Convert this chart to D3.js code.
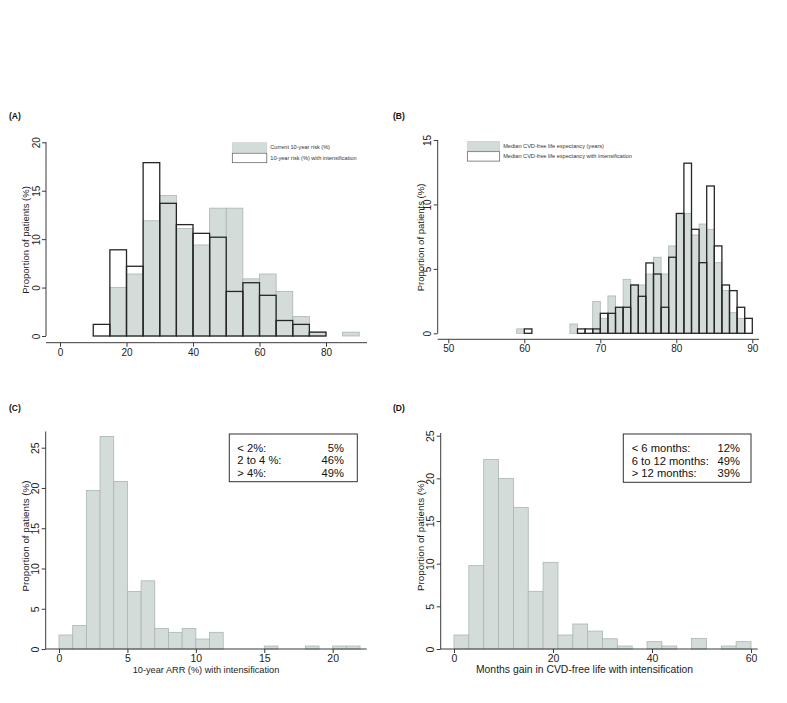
<!DOCTYPE html>
<html>
<head>
<meta charset="utf-8">
<script src="https://cdnjs.cloudflare.com/ajax/libs/d3/7.8.5/d3.min.js"></script>
<style>
  html, body { margin: 0; padding: 0; background: #fff; }
  svg { display: block; font-family: "Liberation Sans", Arial, sans-serif; }
</style>
</head>
<body>
<svg id="chart" width="787" height="703"></svg>
<script>
// ---------- DATA ----------
// Panel A: 10-year risk (%), bins of width 5 starting at these edges
const aBinStarts = [10, 15, 20, 25, 30, 35, 40, 45, 50, 55, 60, 65, 70, 75, 80, 85];
const aCurrent   = [0, 5.0, 6.4, 11.9, 14.5, 11.1, 9.4, 13.2, 13.2, 5.9, 6.4, 4.6, 2.0, 0.4, 0, 0.4];
const aIntens    = [1.2, 8.9, 7.2, 17.9, 13.7, 11.5, 10.6, 10.2, 4.6, 5.5, 4.2, 1.6, 1.2, 0.4, 0, 0];
const aXTicks = [0, 20, 40, 60, 80];
const aYTicks = [0, 5, 10, 15, 20];
const aYTickLabels = ["0", "0", "10", "15", "20"];
const aLegend = ["Current 10-year risk (%)", "10-year risk (%) with intensification"];

// Panel B: median CVD-free life expectancy (years), bins of width 1
const bBinStarts = [59, 60, 61, 62, 63, 64, 65, 66, 67, 68, 69, 70, 71, 72, 73, 74, 75, 76, 77, 78, 79, 80, 81, 82, 83, 84, 85, 86, 87, 88, 89];
const bCurrent   = [0.34, 0, 0, 0, 0, 0, 0, 0.72, 0, 0, 2.46, 1.16, 2.9, 2.0, 4.19, 3.75, 3.75, 4.6, 5.9, 4.6, 6.78, 9.3, 9.3, 7.63, 8.48, 8.07, 5.48, 3.31, 1.6, 1.16, 0];
const bIntens    = [0, 0.34, 0, 0, 0, 0, 0, 0, 0.34, 0.34, 0.34, 1.55, 1.55, 2.02, 2.02, 3.75, 2.87, 5.46, 4.6, 2.02, 5.9, 9.3, 13.2, 8.07, 5.48, 11.43, 6.78, 3.75, 3.31, 2.02, 1.16];
const bXTicks = [50, 60, 70, 80, 90];
const bYTicks = [0, 5, 10, 15];
const bLegend = ["Median CVD-free life expectancy (years)", "Median CVD-free life expectancy with intensification"];

// Panel C: 10-year ARR (%), bins of width 1
const cBinStarts = [0, 1, 2, 3, 4, 5, 6, 7, 8, 9, 10, 11, 12, 13, 14, 15, 16, 17, 18, 19, 20, 21];
const cValues    = [1.74, 2.93, 19.7, 26.4, 20.8, 7.15, 8.47, 2.56, 2.07, 2.56, 1.24, 2.07, 0, 0, 0, 0.37, 0, 0, 0.37, 0, 0.37, 0.37];
const cXTicks = [0, 5, 10, 15, 20];
const cYTicks = [0, 5, 10, 15, 20, 25];
const cBoxLabels = ["< 2%:", "2 to 4 %:", "> 4%:"];
const cBoxValues = ["5%", "46%", "49%"];

// Panel D: months gain, bins of width 3
const dBinStarts = [0, 3, 6, 9, 12, 15, 18, 21, 24, 27, 30, 33, 36, 39, 42, 45, 48, 51, 54, 57];
const dValues    = [1.64, 9.77, 22.2, 20.0, 16.6, 6.76, 10.16, 1.64, 2.93, 2.1, 1.2, 0.35, 0, 0.86, 0.35, 0, 1.25, 0, 0.35, 0.86];
const dXTicks = [0, 20, 40, 60];
const dYTicks = [0, 5, 10, 15, 20, 25];
const dBoxLabels = ["< 6 months:", "6 to 12 months:", "> 12 months:"];
const dBoxValues = ["12%", "49%", "39%"];

const yTitle = "Proportion of patients (%)";

// ---------- STYLE ----------
const GRAY_FILL = "#d3dcd8";
const GRAY_STROKE = "#aab6b2";
const OUT_STROKE = "#262626";
const AXIS = "#3a3a3a";
const TEXT = "#222";

const svg = d3.select("#chart");

function drawPanel(cfg) {
  const g = svg.append("g");
  const x = d3.scaleLinear().domain(cfg.xDomain).range(cfg.xRange);
  const y = d3.scaleLinear().domain(cfg.yDomain).range(cfg.yRange);

  const grayData = cfg.binStarts.map((s, i) => ({ s, v: cfg.gray[i] })).filter(d => d.v > 0);
  g.selectAll(".gbar").data(grayData).join("rect")
    .attr("x", d => x(d.s))
    .attr("width", d => x(d.s + cfg.binW) - x(d.s))
    .attr("y", d => y(d.v))
    .attr("height", d => y(0) - y(d.v))
    .attr("fill", GRAY_FILL)
    .attr("stroke", GRAY_STROKE)
    .attr("stroke-width", 0.8);

  if (cfg.outline) {
    const oData = cfg.binStarts.map((s, i) => ({ s, v: cfg.outline[i] })).filter(d => d.v > 0);
    g.selectAll(".obar").data(oData).join("rect")
      .attr("x", d => x(d.s))
      .attr("width", d => x(d.s + cfg.binW) - x(d.s))
      .attr("y", d => y(d.v))
      .attr("height", d => y(0) - y(d.v))
      .attr("fill", "none")
      .attr("stroke", OUT_STROKE)
      .attr("stroke-width", 1.3);
  }

  const yAxis = d3.axisLeft(y).tickValues(cfg.yTicks).tickSize(4)
    .tickFormat((d, i) => cfg.yTickLabels ? cfg.yTickLabels[i] : d3.format("d")(d));
  const ya = g.append("g").attr("transform", `translate(${cfg.yAxisX},0)`).call(yAxis);
  ya.select(".domain").remove();
  ya.append("line").attr("x1", 0).attr("x2", 0)
    .attr("y1", cfg.yAxisSpan[0]).attr("y2", cfg.yAxisSpan[1])
    .attr("stroke", AXIS).attr("stroke-width", 1);
  ya.selectAll(".tick line").attr("stroke", AXIS);
  ya.selectAll(".tick text")
    .attr("font-size", cfg.tickFont).attr("fill", TEXT)
    .attr("text-anchor", "middle")
    .attr("x", null).attr("dy", null)
    .attr("transform", `translate(${-cfg.yLabelOff},0) rotate(-90)`)
    .attr("y", 0);

  const xAxis = d3.axisBottom(x).tickValues(cfg.xTicks).tickSize(4).tickFormat(d3.format("d"));
  const xa = g.append("g").attr("transform", `translate(0,${cfg.xAxisY})`).call(xAxis);
  xa.select(".domain").remove();
  xa.append("line").attr("x1", cfg.xAxisSpan[0]).attr("x2", cfg.xAxisSpan[1])
    .attr("y1", 0).attr("y2", 0).attr("stroke", AXIS).attr("stroke-width", 1);
  xa.selectAll(".tick line").attr("stroke", AXIS);
  xa.selectAll(".tick text").attr("font-size", cfg.tickFont).attr("fill", TEXT)
    .attr("y", cfg.xLabelOff).attr("dy", null);

  g.append("text")
    .attr("transform", `translate(${cfg.yTitlePos[0]},${cfg.yTitlePos[1]}) rotate(-90)`)
    .attr("text-anchor", "middle")
    .attr("font-size", cfg.yTitleFont).attr("fill", TEXT)
    .text(yTitle);

  if (cfg.xTitle) {
    g.append("text").attr("x", cfg.xTitlePos[0]).attr("y", cfg.xTitlePos[1])
      .attr("text-anchor", "middle").attr("font-size", cfg.xTitleFont).attr("fill", TEXT)
      .text(cfg.xTitle);
  }

  if (cfg.letter) {
    g.append("text").attr("x", cfg.letterPos[0]).attr("y", cfg.letterPos[1])
      .attr("font-size", 8.5).attr("font-weight", "bold").attr("fill", "#111")
      .text(cfg.letter);
  }
  return g;
}

function smallLegend(g, pos, labels) {
  const [lx, ly, bw, bh, gap] = pos;
  g.append("rect").attr("x", lx).attr("y", ly).attr("width", bw).attr("height", bh)
    .attr("fill", GRAY_FILL).attr("stroke", "#c4ceca").attr("stroke-width", 0.6);
  g.append("rect").attr("x", lx).attr("y", ly + bh + gap).attr("width", bw).attr("height", bh)
    .attr("fill", "#fff").attr("stroke", "#555").attr("stroke-width", 0.7);
  labels.forEach((t, i) => {
    g.append("text").attr("x", lx + bw + 3.5).attr("y", ly + bh / 2 + i * (bh + gap) + 2)
      .attr("font-size", 5.6).attr("fill", "#333").text(t);
  });
}

function statBox(g, box, labels, values, textX, valX, rowY0, rowStep) {
  g.append("rect").attr("x", box[0]).attr("y", box[1]).attr("width", box[2]).attr("height", box[3])
    .attr("fill", "#fff").attr("stroke", "#333").attr("stroke-width", 1);
  labels.forEach((t, i) => {
    g.append("text").attr("x", textX).attr("y", rowY0 + i * rowStep)
      .attr("font-size", 11.2).attr("fill", "#111").text(t);
    g.append("text").attr("x", valX).attr("y", rowY0 + i * rowStep)
      .attr("text-anchor", "end").attr("font-size", 11.2).attr("fill", "#111").text(values[i]);
  });
}

// Panel A
const gA = drawPanel({
  binStarts: aBinStarts, binW: 5, gray: aCurrent, outline: aIntens,
  xDomain: [0, 80], xRange: [60, 326], yDomain: [0, 20], yRange: [336, 142.3],
  xTicks: aXTicks, yTicks: aYTicks, yTickLabels: aYTickLabels,
  yAxisX: 46, yAxisSpan: [142, 336], xAxisY: 342.7, xAxisSpan: [46, 367],
  tickFont: 10, yLabelOff: 6.5, xLabelOff: 13,
  yTitlePos: [28.5, 240], yTitleFont: 9.5,
  letter: "(A)", letterPos: [9, 119]
});
smallLegend(gA, [232.3, 142.7, 34.5, 9.5, 1], aLegend);

// Panel B
const gB = drawPanel({
  binStarts: bBinStarts, binW: 1, gray: bCurrent, outline: bIntens,
  xDomain: [50, 90], xRange: [448.3, 752.3], yDomain: [0, 15], yRange: [333.3, 140],
  xTicks: bXTicks, yTicks: bYTicks,
  yAxisX: 437.7, yAxisSpan: [140, 333.3], xAxisY: 339.3, xAxisSpan: [437.7, 759],
  tickFont: 10, yLabelOff: 6.5, xLabelOff: 12.5,
  yTitlePos: [423.5, 237.5], yTitleFont: 9.5,
  letter: "(B)", letterPos: [393, 119]
});
smallLegend(gB, [467.3, 141.3, 32.4, 9.4, 1], bLegend);

// Panel C
const gC = drawPanel({
  binStarts: cBinStarts, binW: 1, gray: cValues,
  xDomain: [0, 20], xRange: [59, 332.7], yDomain: [0, 25], yRange: [649, 447.7],
  xTicks: cXTicks, yTicks: cYTicks,
  yAxisX: 45.7, yAxisSpan: [431.5, 649], xAxisY: 649, xAxisSpan: [45.7, 366.7],
  tickFont: 10.5, yLabelOff: 6.5, xLabelOff: 13,
  yTitlePos: [28.5, 536], yTitleFont: 9.8,
  xTitle: "10-year ARR (%) with intensification", xTitlePos: [206, 672.5], xTitleFont: 9.2,
  letter: "(C)", letterPos: [9, 411]
});
statBox(gC, [229.3, 434, 128, 47.7], cBoxLabels, cBoxValues, 237.3, 344, 452, 12.3);

// Panel D
const gD = drawPanel({
  binStarts: dBinStarts, binW: 3, gray: dValues,
  xDomain: [0, 60], xRange: [454, 751], yDomain: [0, 25], yRange: [649, 435.7],
  xTicks: dXTicks, yTicks: dYTicks,
  yAxisX: 440.7, yAxisSpan: [433, 649], xAxisY: 649, xAxisSpan: [440.7, 757.7],
  tickFont: 10.5, yLabelOff: 6.5, xLabelOff: 13,
  yTitlePos: [423.5, 535.5], yTitleFont: 9.8,
  xTitle: "Months gain in CVD-free life with intensification", xTitlePos: [584.5, 672.5], xTitleFont: 10.4,
  letter: "(D)", letterPos: [393, 411]
});
statBox(gD, [623.3, 434, 127.7, 48.3], dBoxLabels, dBoxValues, 631.7, 740, 452, 12.6);
</script>
</body>
</html>
